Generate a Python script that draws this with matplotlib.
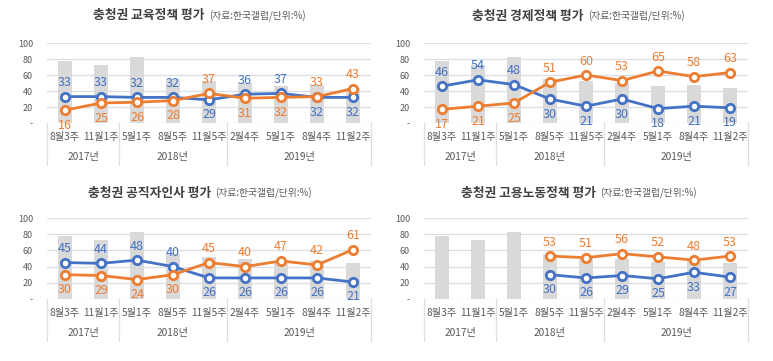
import numpy as np
import matplotlib
matplotlib.use("Agg")
from matplotlib import pyplot as plt
from matplotlib.text import Annotation

plt.rcParams['font.family'] = ['Noto Sans CJK KR', 'DejaVu Sans']

categories = ['8월3주', '11월1주', '5월1주', '8월5주', '11월5주', '2월4주', '5월1주', '8월4주', '11월2주']
years = ['2017년', '2018년', '2019년']
year_sizes = [2, 3, 4]

# background bars (same in every panel)
bars = [78, 73, 83, 55, 52, 50, 46, 47, 44]

titles = ['충청권 교육정책 평가', '충청권 경제정책 평가', '충청권 공직자인사 평가', '충청권 고용노동정책 평가']
subtitle = '(자료:한국갤럽/단위:%)'

edu_blue = [33, 33, 32, 32, 29, 36, 37, 32, 32]
edu_orange = [16, 25, 26, 28, 37, 31, 32, 33, 43]
eco_blue = [46, 54, 48, 30, 21, 30, 18, 21, 19]
eco_orange = [17, 21, 25, 51, 60, 53, 65, 58, 63]
hr_blue = [45, 44, 48, 40, 26, 26, 26, 26, 21]
hr_orange = [30, 29, 24, 30, 45, 40, 47, 42, 61]
lab_blue = [np.nan, np.nan, np.nan, 30, 26, 29, 25, 33, 27]
lab_orange = [np.nan, np.nan, np.nan, 53, 51, 56, 52, 48, 53]

BLUE = '#4472C4'
ORANGE = '#ED7D31'
BAR = '#D9D9D9'
GRID = '#D9DEE7'
TXT = '#595959'

W, H = 773, 361
fig = plt.figure(figsize=(W / 100, H / 100), dpi=100)
PT = 0.72  # points per pixel at dpi 100

# panel layout in pixels: (left, right, y_top(100), y_bottom(0), title_x, title_y)
panels = [
    (47, 371, 43, 123, 93, 16),
    (424, 748, 43, 123, 472, 16),
    (47, 371, 218, 299, 88, 193),
    (424, 748, 218, 299, 461, 193),
]
series = [(edu_blue, edu_orange), (eco_blue, eco_orange), (hr_blue, hr_orange), (lab_blue, lab_orange)]

x = np.arange(len(categories))
LBL = 9      # value label size
CAT = 7.3    # category label size

for (l, r, yt, yb, tx, ty), title, (blue, orange) in zip(panels, titles, series):
    ax = fig.add_axes([l / W, 1 - yb / H, (r - l) / W, (yb - yt) / H])
    ax.set_xlim(-0.5, len(categories) - 0.5)
    ax.set_ylim(0, 100)
    for s in ax.spines.values():
        s.set_visible(False)
    ax.set_yticks([0, 20, 40, 60, 80, 100])
    ax.set_yticklabels(['-', '20', '40', '60', '80', '100'])
    ax.tick_params(axis='y', length=0, labelsize=6.5, labelcolor=TXT, pad=10)
    ax.set_xticks([])
    ax.grid(axis='y', color=GRID, linewidth=0.9)
    ax.set_axisbelow(True)

    ax.bar(x, bars, width=0.4, color=BAR, zorder=1)

    b = np.array(blue, dtype=float)
    o = np.array(orange, dtype=float)
    for vals, other, col in [(b, o, BLUE), (o, b, ORANGE)]:
        ax.plot(x, vals, color=col, linewidth=2, marker='o', markersize=6,
                markerfacecolor='white', markeredgewidth=2, zorder=3)
        for xi, v, ov in zip(x, vals, other):
            if np.isnan(v):
                continue
            up = v >= ov
            dy = (15 if up else -14) - 0.36 * LBL / PT
            ax.annotate(f'{int(v)}', (xi, v), xytext=(0, dy * PT),
                        textcoords='offset points', ha='center',
                        va='baseline', color=col, fontsize=LBL, zorder=4)

    # category labels
    cdy = -(13 + 0.38 * CAT / PT)
    for xi, c in zip(x, categories):
        ax.annotate(c, (xi, 0), xycoords=('data', 'axes fraction'), xytext=(0, cdy * PT),
                    textcoords='offset points', ha='center', va='baseline',
                    fontsize=CAT, color=TXT, annotation_clip=False)
    # year groups and separators
    ydy = -(33 + 0.38 * CAT / PT)
    start = 0
    bounds = [-0.5]
    for yname, n in zip(years, year_sizes):
        mid = start + (n - 1) / 2
        ax.annotate(yname, (mid, 0), xycoords=('data', 'axes fraction'), xytext=(0, ydy * PT),
                    textcoords='offset points', ha='center', va='baseline',
                    fontsize=CAT, color=TXT, annotation_clip=False)
        start += n
        bounds.append(start - 0.5)
    sep = -42 / (yb - yt)
    for bx in bounds:
        ax.plot([bx, bx], [0, sep], transform=ax.get_xaxis_transform(), color=GRID,
                linewidth=0.9, clip_on=False)

    t = fig.text(tx / W, 1 - ty / H, title, ha='left', va='center', fontsize=9.2,
                 fontweight='bold', color='#404040')
    fig.add_artist(Annotation(subtitle, xy=(1, 0.5), xycoords=t, xytext=(3, 0),
                              textcoords='offset points', va='center', ha='left',
                              fontsize=7, color=TXT))

fig.savefig('out.png', dpi=100, facecolor='white')
